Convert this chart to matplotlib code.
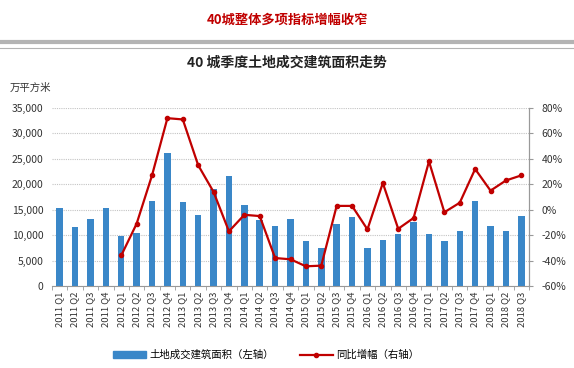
import matplotlib.pyplot as plt
from matplotlib.ticker import FuncFormatter, MultipleLocator
import numpy as np

plt.rcParams["font.family"] = ["Noto Sans CJK SC", "DejaVu Sans"]

# Data
QUARTERS = [f"{y} Q{q}" for y in range(2011, 2019) for q in range(1, 5)][:31]
AREA = [15300, 11600, 13200, 15300, 9800, 10400, 16700, 26100,
        16500, 14000, 19000, 21600, 15900, 13000, 11800, 13200,
        8800, 7500, 12200, 13600, 7500, 9000, 10300, 12500,
        10200, 8800, 10800, 16700, 11800, 10800, 13800]
GROWTH = [None, None, None, None, -36, -11, 27, 72,
          71, 35, 14, -17, -4, -5, -38, -39,
          -44.5, -44, 3, 3, -15.5, 21, -15, -6.5,
          38, -2, 5.5, 32, 15, 23, 27]

BLUE = "#3A87C8"
RED = "#C00000"


def main():
    fig = plt.figure(figsize=(5.74, 3.68), dpi=100)

    # Header
    fig.text(0.5, 1 - 20 / 368, "40城整体多项指标增幅收窄", color="#C00000",
             fontsize=9.5, fontweight="bold", ha="center", va="center")
    fig.add_artist(plt.Line2D([0, 1], [1 - 42 / 368] * 2, color="#b3b3b3", lw=3))
    fig.add_artist(plt.Line2D([0, 1], [1 - 47.5 / 368] * 2, color="#b3b3b3", lw=0.8))
    fig.text(0.5, 1 - 63 / 368, "40 城季度土地成交建筑面积走势", color="#222222",
             fontsize=10, fontweight="bold", ha="center", va="center")
    fig.text(10 / 574, 1 - 88 / 368, "万平方米", fontsize=7.5, ha="left", va="center",
             color="#333333")

    ax = fig.add_axes([52 / 574, 1 - 286 / 368, 477 / 574, 178 / 368])
    x = np.arange(len(QUARTERS))
    ax.bar(x, AREA, width=0.42, color=BLUE, zorder=2)
    ax.set_xlim(-0.5, len(QUARTERS) - 0.5)
    ax.set_ylim(0, 35000)
    ax.yaxis.set_major_locator(MultipleLocator(5000))
    ax.yaxis.set_major_formatter(FuncFormatter(lambda v, p: f"{int(v):,}"))
    ax.grid(axis="y", color="#c4c4c4", ls=(0, (1, 1)), lw=0.8, zorder=0)
    ax.set_xticks(x)
    ax.set_xticklabels(QUARTERS, rotation=90, fontsize=6.8, color="#333333")
    ax.tick_params(axis="y", labelsize=7.5, colors="#333333", length=0, pad=6)
    ax.set_xticks(np.arange(-0.5, len(QUARTERS)), minor=True)
    ax.tick_params(axis="x", which="major", length=0, pad=4)
    ax.tick_params(axis="x", which="minor", length=3, color="#999999")
    for s in ["top", "left"]:
        ax.spines[s].set_visible(False)
    ax.spines["bottom"].set_color("#999999")
    ax.spines["right"].set_color("#999999")

    ax2 = ax.twinx()
    gx = [i for i, g in enumerate(GROWTH) if g is not None]
    gy = [g for g in GROWTH if g is not None]
    ax2.plot(gx, gy, color=RED, lw=1.6, marker="o", markersize=3, zorder=3)
    ax2.set_ylim(-60, 80)
    ax2.yaxis.set_major_locator(MultipleLocator(20))
    ax2.yaxis.set_major_formatter(FuncFormatter(lambda v, p: f"{int(v)}%"))
    ax2.tick_params(axis="y", labelsize=7.5, colors="#333333", length=3,
                    color="#999999", pad=6)
    for s in ["top", "left", "bottom"]:
        ax2.spines[s].set_visible(False)
    ax2.spines["right"].set_color("#999999")

    # Legend
    handles = [plt.Rectangle((0, 0), 1, 1, color=BLUE),
               plt.Line2D([], [], color=RED, lw=1.6, marker="o", markersize=3)]
    fig.legend(handles, ["土地成交建筑面积（左轴）", "同比增幅（右轴）"],
               loc="center", bbox_to_anchor=(266 / 574, 1 - 355 / 368), ncol=2,
               frameon=False, fontsize=7.5, columnspacing=2.5, handlelength=3.2,
               handleheight=0.6, handletextpad=0.3)

    fig.savefig("out.png", dpi=100)


if __name__ == "__main__":
    main()
